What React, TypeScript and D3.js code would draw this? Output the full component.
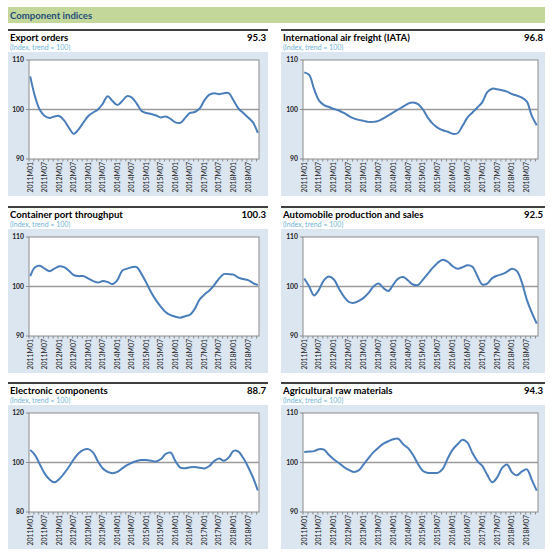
import React from "react";
import * as d3 from "d3";

// ---- data ----
const monthCount = 95; // 2011M01 .. 2018M11
const sampleMonths = d3.range(0, 95, 2); // every second month index (0 = 2011M01)

const tickLabels = [
  "2011M01", "2011M07", "2012M01", "2012M07", "2013M01", "2013M07", "2014M01", "2014M07",
  "2015M01", "2015M07", "2016M01", "2016M07", "2017M01", "2017M07", "2018M01", "2018M07",
];

const exportOrders = [
  106.7, 102.6, 99.9, 98.7, 98.3, 98.6, 98.7, 97.8, 96.3, 95.1, 96.0, 97.4,
  98.7, 99.4, 100.0, 101.2, 102.7, 101.7, 100.9, 101.7, 102.7, 102.4, 101.2, 99.7,
  99.3, 99.1, 98.8, 98.4, 98.6, 98.1, 97.4, 97.3, 98.3, 99.3, 99.5, 100.2,
  101.9, 103.0, 103.3, 103.1, 103.3, 103.3, 101.8, 100.2, 99.3, 98.4, 97.4, 95.3,
];
const airFreight = [
  107.5, 107.0, 104.1, 101.8, 100.9, 100.5, 100.1, 99.8, 99.3, 98.7, 98.2, 97.9,
  97.7, 97.5, 97.5, 97.7, 98.2, 98.8, 99.4, 100.0, 100.6, 101.2, 101.4, 101.1,
  100.0, 98.3, 97.1, 96.3, 95.8, 95.5, 95.1, 95.2, 96.7, 98.4, 99.4, 100.4,
  101.5, 103.5, 104.2, 104.1, 103.9, 103.6, 103.1, 102.8, 102.4, 101.6, 98.7, 96.8,
];
const containerPort = [
  102.1, 103.9, 104.2, 103.6, 103.1, 103.6, 104.1, 103.9, 103.2, 102.3, 102.1, 102.1,
  101.6, 101.1, 100.8, 101.1, 100.9, 100.5, 101.3, 103.2, 103.6, 103.9, 103.9, 102.5,
  100.7, 98.8, 97.2, 95.9, 94.8, 94.2, 93.9, 93.7, 94.0, 94.3, 95.5, 97.4,
  98.4, 99.2, 100.3, 101.6, 102.5, 102.5, 102.4, 101.8, 101.5, 101.3, 100.7, 100.3,
];
const automobile = [
  101.6, 100.0, 98.2, 99.4, 101.3, 102.0, 101.4, 99.6, 98.0, 96.9, 96.7, 97.1,
  97.7, 98.7, 100.0, 100.6, 99.7, 99.1, 100.4, 101.6, 101.9, 101.2, 100.4, 100.3,
  101.4, 102.6, 103.8, 104.8, 105.4, 105.0, 104.1, 103.6, 103.9, 104.3, 104.0, 102.1,
  100.4, 100.6, 101.7, 102.2, 102.5, 103.0, 103.6, 103.1, 100.8, 97.3, 94.7, 92.5,
];
const electronic = [
  105.1, 103.0, 99.2, 95.5, 93.1, 92.0, 93.3, 95.6, 98.3, 101.3, 103.7, 105.1,
  105.4, 104.0, 100.4, 97.6, 96.2, 95.7, 96.2, 97.6, 98.9, 99.9, 100.6, 101.0,
  101.0, 100.7, 100.4, 101.4, 103.5, 104.0, 100.5, 97.9, 97.7, 98.1, 98.2, 97.9,
  97.6, 98.6, 100.6, 101.6, 100.7, 102.0, 104.7, 104.4, 101.8, 98.2, 94.0, 88.7,
];
const agricultural = [
  102.1, 102.2, 102.3, 102.7, 102.6, 101.5, 100.6, 99.9, 99.1, 98.5, 98.1, 98.4,
  99.6, 100.9, 102.1, 103.0, 103.8, 104.3, 104.7, 104.8, 103.7, 102.9, 101.5, 99.7,
  98.3, 97.9, 97.9, 97.9, 98.7, 100.8, 102.6, 103.7, 104.6, 104.0, 101.9, 100.3,
  99.3, 97.5, 96.0, 97.0, 98.9, 99.6, 98.0, 97.4, 98.2, 98.6, 96.5, 94.3,
];

const panelTitles = [
  "Export orders", "International air freight (IATA)", "Container port throughput",
  "Automobile production and sales", "Electronic components", "Agricultural raw materials",
];
const latestValues = ["95.3", "96.8", "100.3", "92.5", "88.7", "94.3"];
const seriesList = [exportOrders, airFreight, containerPort, automobile, electronic, agricultural];
const yDomains: [number, number][] = [[90, 110], [90, 110], [90, 110], [90, 110], [80, 120], [90, 110]];
const yTicks = [[90, 100, 110], [90, 100, 110], [90, 100, 110], [90, 100, 110], [80, 100, 120], [90, 100, 110]];

// ---- layout ----
const COLS = [
  { x0: 8, x1: 268, pl: 29, pr: 259 },
  { x0: 281, x1: 545, pl: 303, pr: 538 },
];
const ROWS = [30, 207, 383];
const FONT = "Lato, 'Open Sans', sans-serif";

function Panel({ idx }: { idx: number }) {
  const col = COLS[idx % 2];
  const y0 = ROWS[Math.floor(idx / 2)];
  const top = y0 + 30;
  const bottom = y0 + 129;
  const x = d3.scaleLinear().domain([-0.5, monthCount - 0.5]).range([col.pl, col.pr]);
  const y = d3.scaleLinear().domain(yDomains[idx]).range([bottom, top]);
  const values = seriesList[idx];
  const pts: [number, number][] = sampleMonths.map((m, i) => [m, values[i]]);
  const line = d3
    .line<[number, number]>()
    .x((d) => x(d[0]))
    .y((d) => y(d[1]))
    .curve(d3.curveCatmullRom.alpha(0.5));
  const minorTicks = d3.range(0, monthCount + 1, 2);
  return (
    <g>
      <line x1={col.x0} x2={col.x1} y1={y0} y2={y0} stroke="#000" strokeWidth={1.5} />
      <text x={col.x0 + 2} y={y0 + 11} fontFamily={FONT} fontWeight={700} fontSize={9.6} fill="#000">
        {panelTitles[idx]}
      </text>
      <text x={col.x1 - 2} y={y0 + 11} fontFamily={FONT} fontWeight={700} fontSize={9.6} fill="#000" textAnchor="end">
        {latestValues[idx]}
      </text>
      <text x={col.x0 + 2} y={y0 + 20} fontFamily={FONT} fontSize={7} fill="#6fb3d6">
        (Index, trend = 100)
      </text>
      <rect x={col.x0} y={y0 + 22} width={col.x1 - col.x0} height={144} fill="#dce6f1" />
      <rect x={col.pl} y={top} width={col.pr - col.pl} height={bottom - top} fill="#fff" stroke="#8c8c8c" strokeWidth={1} />
      <line x1={col.pl} x2={col.pr} y1={y(100)} y2={y(100)} stroke="#9a9a9a" strokeWidth={1.6} />
      {yTicks[idx].map((t) => (
        <g key={t}>
          <line x1={col.pl - 3} x2={col.pl} y1={y(t)} y2={y(t)} stroke="#8c8c8c" />
          <text x={col.pl - 5} y={y(t) + 2.3} fontFamily={FONT} fontWeight={700} fontSize={6.8} fill="#222" textAnchor="end">
            {t}
          </text>
        </g>
      ))}
      {minorTicks.map((m) => (
        <line key={m} x1={x(m - 0.5)} x2={x(m - 0.5)} y1={bottom} y2={bottom + 2.5} stroke="#8c8c8c" />
      ))}
      {tickLabels.map((lab, i) => {
        const cx = x(i * 6);
        return (
          <text
            key={lab}
            transform={`translate(${cx + 2.4},${bottom + 3}) rotate(-90)`}
            fontFamily={FONT}
            fontSize={6.9}
            fill="#222"
            textAnchor="end"
          >
            {lab}
          </text>
        );
      })}
      <path d={line(pts) || ""} fill="none" stroke="#4a7ebb" strokeWidth={2} />
    </g>
  );
}

export default function App() {
  return (
    <svg width={555} height={559} style={{ position: "absolute", left: 0, top: 0, background: "#fff" }}>
      <rect x={8} y={7} width={537} height={16} fill="#c4d79b" />
      <text x={10} y={19} fontFamily={FONT} fontWeight={700} fontSize={9.6} fill="#1f4e79">
        Component indices
      </text>
      {panelTitles.map((_, i) => (
        <Panel key={i} idx={i} />
      ))}
    </svg>
  );
}
